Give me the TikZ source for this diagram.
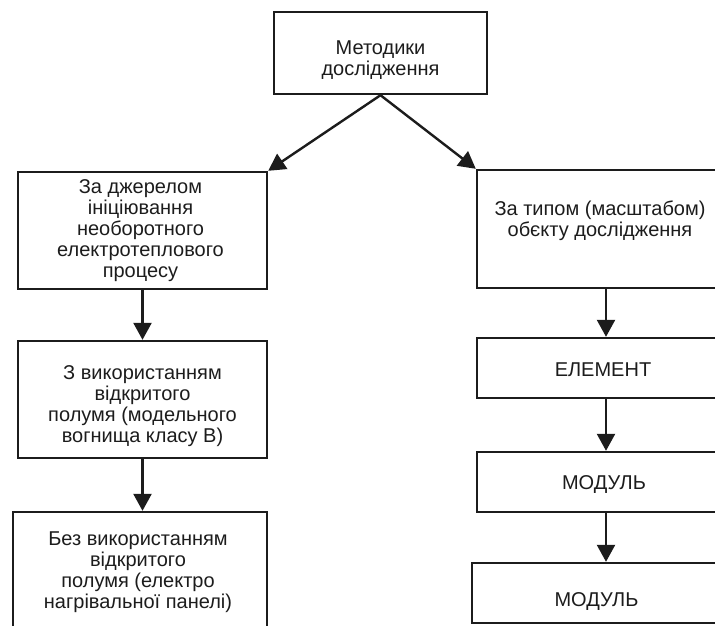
\documentclass[tikz,border=0pt]{standalone}
\usepackage{fontspec}
\setmainfont{Liberation Sans}
\usetikzlibrary{arrows.meta,calc}

\definecolor{ink}{HTML}{1C1C1C}

\tikzset{
  box/.style={draw=ink, line width=2.4pt, rectangle, inner sep=0pt},
  txt/.style={text=ink, align=center, font=\fontsize{20}{21}\selectfont, inner sep=0pt},
  link/.style={draw=ink, line width=2.4pt, -{Triangle[length=17pt,width=18pt]}},
}

\begin{document}
\begin{tikzpicture}[x=1pt,y=-1pt]
  \useasboundingbox (0,0) rectangle (715,625);
  \clip (0,0) rectangle (715,625);

  % root
  \node[box, minimum width=213pt, minimum height=82pt,
        label={[txt, yshift=-7pt]center:Методики\\дослідження}] (root) at (380.5,53) {};

  % left branch
  \node[box, minimum width=249pt, minimum height=117pt,
        label={[txt, xshift=-2pt]center:За джерелом\\ініціювання\\необоротного\\електротеплового\\процесу}] (src) at (142.5,230.5) {};
  \node[box, minimum width=249pt, minimum height=117pt,
        label={[txt, yshift=-7pt]center:З використанням\\відкритого\\полумя (модельного\\вогнища класу В)}] (flame) at (142.5,399.5) {};
  \node[box, minimum width=254pt, minimum height=138pt,
        label={[txt, xshift=-2pt, yshift=9pt]center:Без використанням\\відкритого\\полумя (електро\\нагрівальної панелі)}] (panel) at (140,581) {};

  % right branch
  \node[box, minimum width=258pt, minimum height=118pt,
        label={[txt, xshift=-6pt, yshift=8pt]center:За типом (масштабом)\\обєкту дослідження}] (scale) at (606,229) {};
  \node[box, minimum width=258pt, minimum height=60pt,
        label={[txt, xshift=-3pt, yshift=-2pt]center:ЕЛЕМЕНТ}] (elem) at (606,368) {};
  \node[box, minimum width=258pt, minimum height=60pt,
        label={[txt, xshift=-2pt, yshift=-2pt]center:МОДУЛЬ}] (mod1) at (606,482) {};
  \node[box, minimum width=263pt, minimum height=60pt,
        label={[txt, xshift=-7pt, yshift=-8pt]center:МОДУЛЬ}] (mod2) at (603.5,593) {};

  % connectors
  \draw[link] (root.south) -- (src.north east);
  \draw[link] (root.south) -- (scale.north west);
  \draw[link] (src.south) -- (flame.north);
  \draw[link] (flame.south) -- (flame.south |- panel.north);
  \draw[link] (scale.south) -- (elem.north);
  \draw[link] (elem.south) -- (mod1.north);
  \draw[link] (mod1.south) -- (mod1.south |- mod2.north);
\end{tikzpicture}
\end{document}
